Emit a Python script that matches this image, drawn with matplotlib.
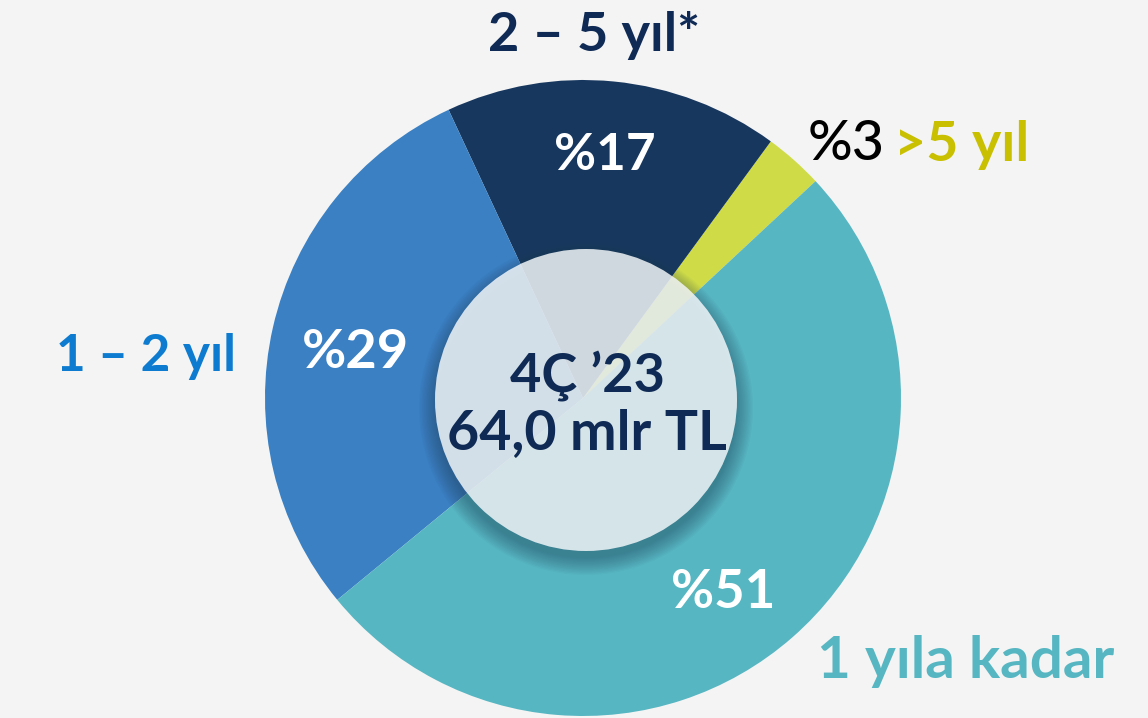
import numpy as np
import matplotlib.pyplot as plt
from matplotlib.patches import Circle

# maturity split of the portfolio (share, %)
labels = [">5 yıl", "2 – 5 yıl*", "1 – 2 yıl", "1 yıla kadar"]
shares = [3, 17, 29, 51]
colors = ["#CFDC47", "#17375F", "#3A80C3", "#56B6C2"]
center_lines = ["4Ç \u201923", "64,0 mlr TL"]

plt.rcParams["font.family"] = ["Lato", "DejaVu Sans"]

W, H = 1148, 718
fig = plt.figure(figsize=(W / 100, H / 100), dpi=100, facecolor="#F4F4F4")
ax = fig.add_axes([0, 0, 1, 1])
ax.set_facecolor("#F4F4F4")

cx, cy, r = 583, H - 398, 318
wedges, _ = ax.pie(shares, colors=colors, startangle=43, counterclock=True,
                   center=(cx, cy), radius=r, frame=True,
                   wedgeprops=dict(linewidth=0))

# soft shadow under the centre disc
for k in range(14):
    ax.add_patch(Circle((cx + 3, cy - 10), 151 + 16 - k * 1.3,
                        facecolor="#1E3C55", alpha=0.035, lw=0, zorder=3))
ax.add_patch(Circle((cx + 3, cy - 2), 151, facecolor="#F4F8FA", alpha=0.84,
                    lw=0, zorder=4))

navy = "#0E2A55"
ax.text(cx + 4, H - 376, center_lines[0], ha="center", va="center",
        fontsize=39, color=navy, fontweight="bold", zorder=5)
ax.text(cx + 4, H - 433, center_lines[1], ha="center", va="center",
        fontsize=40, color=navy, fontweight="bold", zorder=5)

# percentages on slices
ax.text(605, H - 155, f"%{shares[1]}", ha="center", va="center",
        fontsize=37, color="white", fontweight="bold", zorder=5)
ax.text(355, H - 352, f"%{shares[2]}", ha="center", va="center",
        fontsize=39, color="white", fontweight="bold", zorder=5)
ax.text(723, H - 592, f"%{shares[3]}", ha="center", va="center",
        fontsize=38, color="white", fontweight="bold", zorder=5)

# outside labels
ax.text(594, H - 35, labels[1], ha="center", va="center",
        fontsize=39, color=navy, fontweight="bold", zorder=5)
ax.text(885, H - 145, f"%{shares[0]}", ha="right", va="center",
        fontsize=40, color="black", fontweight="medium", zorder=5)
ax.text(894, H - 145, labels[0], ha="left", va="center",
        fontsize=40, color="#C8C000", fontweight="bold", zorder=5)
ax.text(146, H - 357, labels[2], ha="center", va="center",
        fontsize=37, color="#0C7BD0", fontweight="bold", zorder=5)
ax.text(966, H - 662, labels[3], ha="center", va="center",
        fontsize=42, color="#56B6C2", fontweight="bold", zorder=5)

ax.set_xlim(0, W)
ax.set_ylim(0, H)
ax.set_aspect("auto")
ax.axis("off")

fig.savefig("out.png", dpi=100, facecolor=fig.get_facecolor())
